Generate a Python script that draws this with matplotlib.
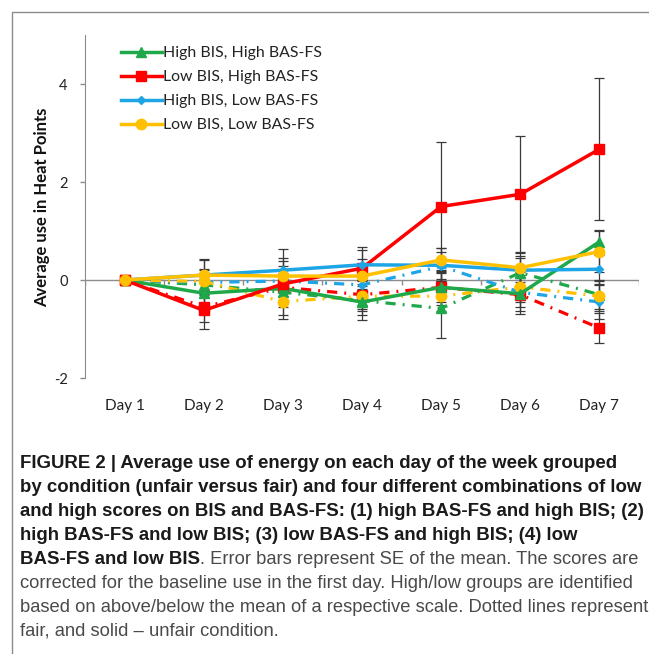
import numpy as np
import matplotlib
matplotlib.use("Agg")
import matplotlib.pyplot as plt
from matplotlib.patches import Rectangle

days = ["Day 1", "Day 2", "Day 3", "Day 4", "Day 5", "Day 6", "Day 7"]
groups = ["High BIS, High BAS-FS", "Low BIS, High BAS-FS",
          "High BIS, Low BAS-FS", "Low BIS, Low BAS-FS"]

# unfair condition (solid lines)
unfair_hh = [0, -0.27, -0.17, -0.45, -0.15, -0.28, 0.78]
unfair_lh = [0, -0.62, -0.08, 0.24, 1.50, 1.75, 2.67]
unfair_hl = [0, 0.10, 0.20, 0.31, 0.30, 0.20, 0.22]
unfair_ll = [0, 0.10, 0.08, 0.08, 0.41, 0.25, 0.58]
se_unfair_hh = [0, 0.20, 0.25, 0.37, 0.30, 0.35, 0.25]
se_unfair_lh = [0, 0.38, 0.72, 0.43, 1.32, 1.18, 1.45]
se_unfair_hl = [0, 0.30, 0.25, 0.30, 0.35, 0.30, 0.30]
se_unfair_ll = [0, 0.32, 0.30, 0.35, 0.25, 0.30, 0.42]

# fair condition (dash-dot lines)
fair_hh = [0, -0.10, -0.25, -0.42, -0.58, 0.15, -0.30]
fair_lh = [0, -0.55, -0.15, -0.30, -0.15, -0.30, -0.98]
fair_hl = [0, -0.05, -0.02, -0.10, 0.28, -0.25, -0.45]
fair_ll = [0, -0.03, -0.44, -0.33, -0.33, -0.14, -0.33]
se_fair_hh = [0, 0.25, 0.30, 0.30, 0.60, 0.30, 0.30]
se_fair_lh = [0, 0.30, 0.30, 0.30, 0.35, 0.40, 0.30]
se_fair_hl = [0, 0.25, 0.30, 0.30, 0.30, 0.30, 0.35]
se_fair_ll = [0, 0.25, 0.28, 0.30, 0.30, 0.30, 0.30]

colors = ["#1fa84a", "#ff0000", "#1ea5e6", "#ffc000"]
markers = ["^", "s", "D", "o"]
msizes = [7, 7, 4.5, 7.5]

unfair = [unfair_hh, unfair_lh, unfair_hl, unfair_ll]
se_unfair = [se_unfair_hh, se_unfair_lh, se_unfair_hl, se_unfair_ll]
fair = [fair_hh, fair_lh, fair_hl, fair_ll]
se_fair = [se_fair_hh, se_fair_lh, se_fair_hl, se_fair_ll]

chart_font = ["Lato", "DejaVu Sans"]
x = np.arange(1, len(days) + 1)

fig = plt.figure(figsize=(6.49, 6.54), dpi=100)
fig.patches.append(Rectangle((12 / 649, -0.1), 1.2, 1 - 12 / 654 + 0.1,
                             transform=fig.transFigure, fill=False,
                             edgecolor="#8c8c8c", lw=1.0))

ax = fig.add_axes([85 / 649, 1 - 378 / 654, 554 / 649, 343 / 654])

# fair first (underneath), then unfair
for vals, se, c, m, ms in zip(fair, se_fair, colors, markers, msizes):
    ax.errorbar(x, vals, yerr=se, fmt="none", ecolor="#3a3a3a", elinewidth=0.9,
                capsize=3.5, capthick=0.9, zorder=2)
    ax.plot(x, vals, color=c, lw=2.3, dashes=(3.2, 2.2, 0.6, 2.2),
            marker=m, markersize=ms, zorder=3)

handles = []
for vals, se, c, m, ms, g in zip(unfair, se_unfair, colors, markers, msizes, groups):
    ax.errorbar(x, vals, yerr=se, fmt="none", ecolor="#3a3a3a", elinewidth=0.9,
                capsize=3.5, capthick=0.9, zorder=2)
    h, = ax.plot(x, vals, color=c, lw=2.5, marker=m, markersize=ms,
                 zorder=4, label=g)
    handles.append(h)

ax.axhline(0, color="#8c8c8c", lw=1.0, zorder=1)
ax.vlines(np.arange(0.5, len(days) + 1), -0.1, 0, color="#8c8c8c", lw=1.0, zorder=1)

ax.set_xlim(0.5, len(days) + 0.5)
ax.set_ylim(-2, 5)
ax.set_yticks([-2, 0, 2, 4])
ax.set_yticklabels(["-2", "0", "2", "4"], family=chart_font, fontsize=10.5, color="#222222")
ax.set_xticks(x)
ax.set_xticklabels(days, family=chart_font, fontsize=11, color="#222222")
ax.tick_params(axis="x", length=0, pad=15)
ax.tick_params(axis="y", length=3.5, width=1.0, color="#8c8c8c", pad=9)
for s in ["top", "right", "bottom"]:
    ax.spines[s].set_visible(False)
ax.spines["left"].set_color("#8c8c8c")

leg = ax.legend(handles=handles, loc="upper left", bbox_to_anchor=(0.05, 0.99),
                frameon=False, borderpad=0, handlelength=2.6, handletextpad=0.1,
                labelspacing=0.62, prop={"family": chart_font, "size": 11.4})
for t in leg.get_texts():
    t.set_color("#222222")

fig.text(42 / 649, 1 - 207 / 654, "Average use in Heat Points", rotation=90,
         ha="center", va="center", family=chart_font, fontweight="bold",
         fontsize=12, color="#111111")

# caption
cap_font = ["Liberation Sans", "DejaVu Sans"]
bold_lines = [
    "FIGURE 2 | Average use of energy on each day of the week grouped",
    "by condition (unfair versus fair) and four different combinations of low",
    "and high scores on BIS and BAS-FS: (1) high BAS-FS and high BIS; (2)",
    "high BAS-FS and low BIS; (3) low BAS-FS and high BIS; (4) low",
]
mixed_bold = "BAS-FS and low BIS"
mixed_rest = ". Error bars represent SE of the mean. The scores are"
normal_lines = [
    "corrected for the baseline use in the first day. High/low groups are identified",
    "based on above/below the mean of a respective scale. Dotted lines represent",
    "fair, and solid \u2013 unfair condition.",
]
x0 = 20 / 649
y_first = 463
step = 24
bold_kw = dict(family=cap_font, fontweight="bold", fontsize=13.4, color="#1a1a1a",
               va="center", ha="left")
norm_kw = dict(family=cap_font, fontsize=13.2, color="#4a4a4a", va="center", ha="left")
row = 0
for line in bold_lines:
    fig.text(x0, 1 - (y_first + row * step) / 654, line, **bold_kw)
    row += 1
tb = fig.text(x0, 1 - (y_first + row * step) / 654, mixed_bold, **bold_kw)
fig.canvas.draw()
bb = tb.get_window_extent().transformed(fig.transFigure.inverted())
fig.text(bb.x1, 1 - (y_first + row * step) / 654, mixed_rest, **norm_kw)
row += 1
for line in normal_lines:
    fig.text(x0, 1 - (y_first + row * step) / 654, line, **norm_kw)
    row += 1

fig.savefig("out.png", dpi=100)
